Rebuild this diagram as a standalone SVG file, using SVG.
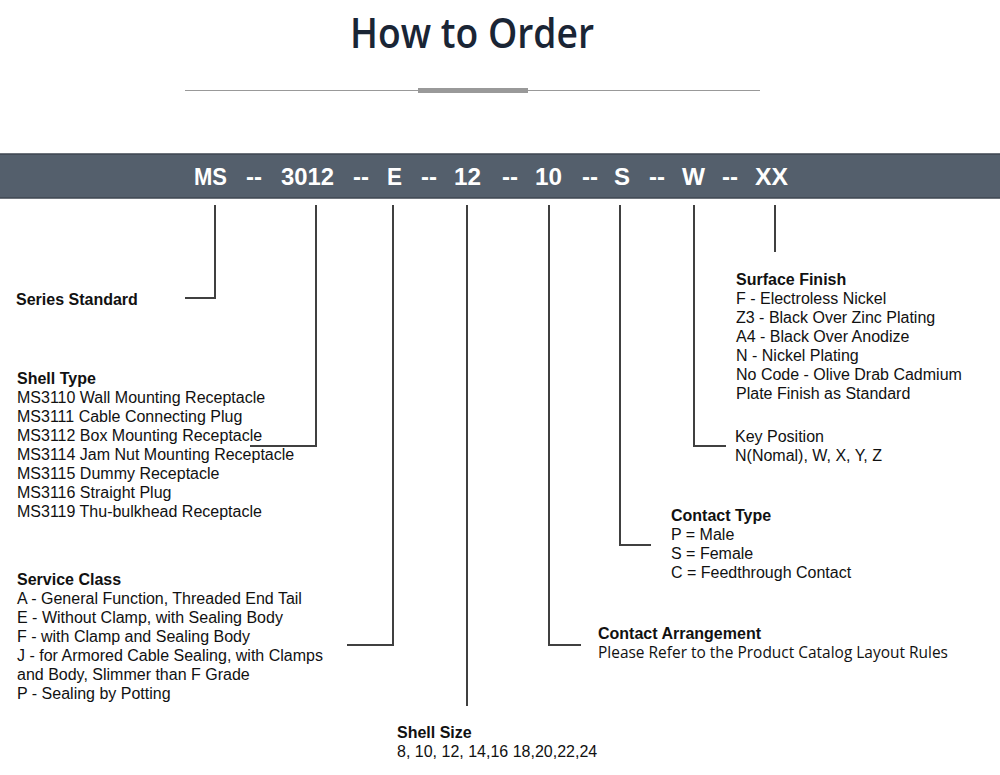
<svg xmlns="http://www.w3.org/2000/svg" width="1000" height="775" viewBox="0 0 1000 775">
<style>
.t{font-family:"Liberation Sans",Arial,sans-serif;font-size:16px;fill:#111}
.b{font-weight:bold}
.c{fill:none;stroke:#404040;stroke-width:2}
.code{font-family:"Liberation Sans",Arial,sans-serif;font-weight:bold;font-size:24px;fill:#fff}
</style>
<rect width="1000" height="775" fill="#fff"/>
<g id="title">
<text x="350" y="48" textLength="244" lengthAdjust="spacingAndGlyphs" font-family="'Open Sans','Noto Sans',sans-serif" font-weight="600" font-size="42" fill="#1a2535">How to Order</text>
<line x1="185" y1="90.5" x2="760" y2="90.5" stroke="#999" stroke-width="1"/>
<rect x="418" y="88" width="110" height="5" fill="#999"/>
</g>
<g id="bar">
<rect x="-1" y="154" width="1002" height="44" fill="#545f6c" stroke="#3e4650" stroke-width="1.5"/>
<g class="code">
<text x="194" y="185" textLength="33" lengthAdjust="spacingAndGlyphs">MS</text>
<text x="246" y="185" textLength="16" lengthAdjust="spacingAndGlyphs">--</text>
<text x="281" y="185" textLength="53" lengthAdjust="spacingAndGlyphs">3012</text>
<text x="353" y="185" textLength="16" lengthAdjust="spacingAndGlyphs">--</text>
<text x="387" y="185" textLength="15" lengthAdjust="spacingAndGlyphs">E</text>
<text x="421" y="185" textLength="16" lengthAdjust="spacingAndGlyphs">--</text>
<text x="454" y="185" textLength="27" lengthAdjust="spacingAndGlyphs">12</text>
<text x="502" y="185" textLength="16" lengthAdjust="spacingAndGlyphs">--</text>
<text x="535" y="185" textLength="27" lengthAdjust="spacingAndGlyphs">10</text>
<text x="582" y="185" textLength="16" lengthAdjust="spacingAndGlyphs">--</text>
<text x="614" y="185" textLength="16" lengthAdjust="spacingAndGlyphs">S</text>
<text x="649" y="185" textLength="16" lengthAdjust="spacingAndGlyphs">--</text>
<text x="682" y="185" textLength="23" lengthAdjust="spacingAndGlyphs">W</text>
<text x="722" y="185" textLength="16" lengthAdjust="spacingAndGlyphs">--</text>
<text x="755" y="185" textLength="33" lengthAdjust="spacingAndGlyphs">XX</text>
</g>
</g>
<g id="connectors">
<polyline class="c" points="215,205 215,298 185,298"/>
<polyline class="c" points="316,205 316,446 250,446"/>
<polyline class="c" points="393,205 393,645 347,645"/>
<polyline class="c" points="467,205 467,706"/>
<polyline class="c" points="549,205 549,645 581,645"/>
<polyline class="c" points="620,205 620,545 651,545"/>
<polyline class="c" points="694,205 694,446 726,446"/>
<polyline class="c" points="775,205 775,252"/>
</g>
<g id="series-standard">
<text class="t b" x="16" y="305">Series Standard</text>
</g>
<g id="shell-type">
<text class="t b" x="17" y="384">Shell Type</text>
<text class="t" x="17" y="403">MS3110 Wall Mounting Receptacle</text>
<text class="t" x="17" y="422">MS3111 Cable Connecting Plug</text>
<text class="t" x="17" y="441">MS3112 Box Mounting Receptacle</text>
<text class="t" x="17" y="460">MS3114 Jam Nut Mounting Receptacle</text>
<text class="t" x="17" y="479">MS3115 Dummy Receptacle</text>
<text class="t" x="17" y="498">MS3116 Straight Plug</text>
<text class="t" x="17" y="517">MS3119 Thu-bulkhead Receptacle</text>
</g>
<g id="service-class">
<text class="t b" x="17" y="585">Service Class</text>
<text class="t" x="17" y="604">A - General Function, Threaded End Tail</text>
<text class="t" x="17" y="623">E - Without Clamp, with Sealing Body</text>
<text class="t" x="17" y="642">F - with Clamp and Sealing Body</text>
<text class="t" x="17" y="661">J - for Armored Cable Sealing, with Clamps</text>
<text class="t" x="17" y="680">and Body, Slimmer than F Grade</text>
<text class="t" x="17" y="699">P - Sealing by Potting</text>
</g>
<g id="shell-size">
<text class="t b" x="397" y="738">Shell Size</text>
<text class="t" x="397" y="757">8, 10, 12, 14,16 18,20,22,24</text>
</g>
<g id="surface-finish">
<text class="t b" x="736" y="285">Surface Finish</text>
<text class="t" x="736" y="304">F - Electroless Nickel</text>
<text class="t" x="736" y="323">Z3 - Black Over Zinc Plating</text>
<text class="t" x="736" y="342">A4 - Black Over Anodize</text>
<text class="t" x="736" y="361">N - Nickel Plating</text>
<text class="t" x="736" y="380">No Code - Olive Drab Cadmium</text>
<text class="t" x="736" y="399">Plate Finish as Standard</text>
</g>
<g id="key-position">
<text class="t" x="735" y="442">Key Position</text>
<text class="t" x="735" y="461">N(Nomal), W, X, Y, Z</text>
</g>
<g id="contact-type">
<text class="t b" x="671" y="521">Contact Type</text>
<text class="t" x="671" y="540">P = Male</text>
<text class="t" x="671" y="559">S = Female</text>
<text class="t" x="671" y="578">C = Feedthrough Contact</text>
</g>
<g id="contact-arrangement">
<text class="t b" x="598" y="639">Contact Arrangement</text>
<text x="598" y="658" textLength="350" lengthAdjust="spacingAndGlyphs" font-family="'Open Sans','Noto Sans',sans-serif" font-size="15.5" fill="#111">Please Refer to the Product Catalog Layout Rules</text>
</g>
</svg>
